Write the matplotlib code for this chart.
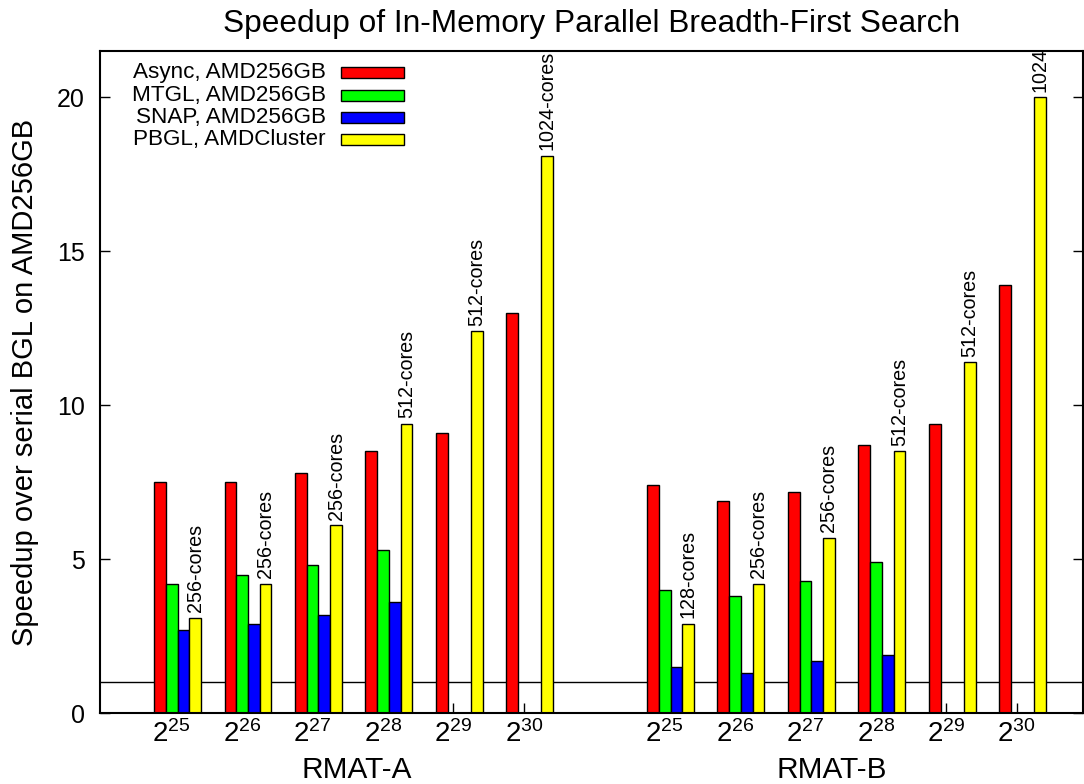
import numpy as np
import matplotlib
matplotlib.use('Agg')
from matplotlib import pyplot as plt
from matplotlib.patches import Rectangle

plt.rcParams['font.family'] = ['Liberation Sans', 'DejaVu Sans']
plt.rcParams['mathtext.fontset'] = 'custom'
plt.rcParams['mathtext.rm'] = 'Liberation Sans'
plt.rcParams['mathtext.it'] = 'Liberation Sans:italic'
plt.rcParams['mathtext.bf'] = 'Liberation Sans:bold'

# graph sizes (log2 of vertices), one group per size
exponents = [25, 26, 27, 28, 29, 30]
datasets = ['RMAT-A', 'RMAT-B']
series_names = ['Async, AMD256GB', 'MTGL, AMD256GB', 'SNAP, AMD256GB', 'PBGL, AMDCluster']
series_colors = ['#ff0000', '#00ff00', '#0000ff', '#ffff00']

async_a = [7.5, 7.5, 7.8, 8.5, 9.1, 13.0]
mtgl_a = [4.2, 4.5, 4.8, 5.3, np.nan, np.nan]
snap_a = [2.7, 2.9, 3.2, 3.6, np.nan, np.nan]
pbgl_a = [3.1, 4.2, 6.1, 9.4, 12.4, 18.1]

async_b = [7.4, 6.9, 7.2, 8.7, 9.4, 13.9]
mtgl_b = [4.0, 3.8, 4.3, 4.9, np.nan, np.nan]
snap_b = [1.5, 1.3, 1.7, 1.9, np.nan, np.nan]
pbgl_b = [2.9, 4.2, 5.7, 8.5, 11.4, 20.0]

cores_a = ['256-cores', '256-cores', '256-cores', '512-cores', '512-cores', '1024-cores']
cores_b = ['128-cores', '256-cores', '256-cores', '512-cores', '512-cores', '1024']

series = [
    np.array(async_a + [np.nan] + async_b),
    np.array(mtgl_a + [np.nan] + mtgl_b),
    np.array(snap_a + [np.nan] + snap_b),
    np.array(pbgl_a + [np.nan] + pbgl_b),
]
cores = cores_a + [''] + cores_b
tick_labels = [r'$\mathregular{2^{%d}}$' % e for e in exponents]

pos = np.arange(len(exponents) * 2 + 1, dtype=float)
w = 1.0 / 6

fig = plt.figure(figsize=(10.84, 7.84), dpi=100)
ax = fig.add_axes([100 / 1084, 70.7 / 784, 983 / 1084, 662.3 / 784])

ax.axhline(1.0, color='black', lw=1.0, zorder=1)

for k, (vals, col) in enumerate(zip(series, series_colors)):
    ok = ~np.isnan(vals)
    ax.bar(pos[ok] + (k - 1) * w, vals[ok], width=w, color=col,
           edgecolor='black', linewidth=1.0, zorder=2)

pbgl = series[3]
for x, v, lab in zip(pos, pbgl, cores):
    if lab:
        ax.annotate(lab, (x + 2 * w, v), xytext=(0, 4), textcoords='offset points',
                    rotation=90, ha='center', va='bottom', fontsize=14.2)

ax.set_xlim(-1.018, 12.94)
ax.set_ylim(0, 21.5)

ticks = np.concatenate([pos[:6], pos[7:]])
ax.set_xticks(ticks)
ax.set_xticklabels(tick_labels * 2, fontsize=20)
ax.set_yticks([0, 5, 10, 15, 20])
ax.tick_params(axis='y', direction='in', length=7, width=1, right=True,
               labelsize=18, pad=11)
ax.tick_params(axis='x', direction='in', length=7, width=1, top=False, pad=5)
for s in ax.spines.values():
    s.set_linewidth(1.5)

ax.set_title('Speedup of In-Memory Parallel Breadth-First Search', fontsize=22.8, pad=14)
ax.set_ylabel('Speedup over serial BGL on AMD256GB', fontsize=21)
ax.yaxis.set_label_coords(-0.062, 0.5)

for name, xc in zip(datasets, [2.63, 9.37]):
    ax.text(xc, -0.085, name, transform=ax.get_xaxis_transform(),
            ha='center', va='center', fontsize=21.4)

# key, drawn by hand in axes fraction
for i, (name, col) in enumerate(zip(series_names, series_colors)):
    y = 0.9668 - i * 0.0333
    ax.text(0.2299, y, name, transform=ax.transAxes, ha='right', va='center', fontsize=16.2)
    ax.add_patch(Rectangle((0.2452, y - 0.0083), 0.0641, 0.0166, transform=ax.transAxes,
                           facecolor=col, edgecolor='black', linewidth=1.0, clip_on=False))

fig.savefig('out.png', dpi=100)
